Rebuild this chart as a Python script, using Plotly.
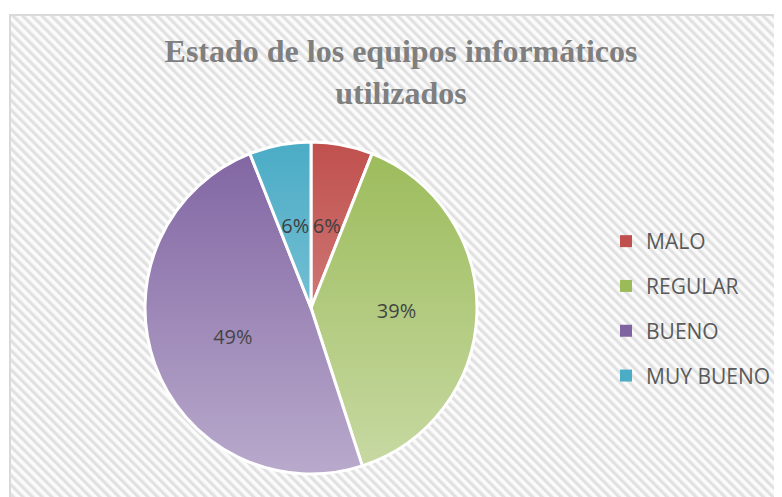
import base64
import plotly.graph_objects as go

# ---- data ----
categories = ["MALO", "REGULAR", "BUENO", "MUY BUENO"]
values = [6, 39, 49, 6]
colors = ["#c0504d", "#9bbb59", "#8064a2", "#4bacc6"]
label_colors = ["#262626", "#0a0a0a", "#000000", "#262626"]
title_text = "Estado de los equipos informáticos<br>utilizados"

W, H = 782, 497
OFF = 8  # page body margin of the written html


def px_x(v):
    return (v - OFF) / W


def px_y(v):
    return 1 - (v - OFF) / H


def svg_uri(svg):
    return "data:image/svg+xml;base64," + base64.b64encode(svg.encode()).decode()


# background hatch
bg_svg = (
    "<svg xmlns='http://www.w3.org/2000/svg' width='800' height='500'>"
    "<defs><pattern id='p' width='6.8' height='6.8' patternUnits='userSpaceOnUse' "
    "patternTransform='rotate(-45)'>"
    "<rect width='6.8' height='6.8' fill='#fbfbfb'/>"
    "<rect x='0' width='3.2' height='6.8' fill='#e1e1e1'/>"
    "</pattern></defs>"
    "<rect width='800' height='500' fill='url(#p)'/></svg>"
)

# gradient overlay for pie (lighter towards bottom)
grad_svg = (
    "<svg xmlns='http://www.w3.org/2000/svg' width='332' height='332'>"
    "<defs><linearGradient id='g' x1='0' y1='0' x2='0' y2='1'>"
    "<stop offset='0' stop-color='#ffffff' stop-opacity='0'/>"
    "<stop offset='1' stop-color='#ffffff' stop-opacity='0.45'/>"
    "</linearGradient></defs>"
    "<circle cx='166' cy='166' r='166' fill='url(#g)'/></svg>"
)

cx, cy, r = 311, 308, 166
r_small = 100  # radius of the transparent label-carrying pie for thin slices

big_tpl = ["" if v < 10 else "%{percent:.0%}" for v in values]
small_tpl = ["%{percent:.0%}" if v < 10 else "" for v in values]

fig = go.Figure()
fig.add_trace(go.Pie(
    labels=categories,
    values=values,
    sort=False,
    direction="clockwise",
    rotation=0,
    marker=dict(colors=colors, line=dict(color="white", width=3)),
    texttemplate=big_tpl,
    textposition="inside",
    insidetextorientation="horizontal",
    textfont=dict(family="Open Sans", size=20, color=label_colors),
    domain=dict(x=[px_x(cx - r), px_x(cx + r)], y=[px_y(cy + r), px_y(cy - r)]),
    showlegend=False,
    hoverinfo="label+percent",
))
fig.add_trace(go.Pie(
    labels=categories,
    values=values,
    sort=False,
    direction="clockwise",
    rotation=0,
    marker=dict(colors=["rgba(0,0,0,0)"] * len(values), line=dict(width=0)),
    texttemplate=small_tpl,
    textposition="inside",
    insidetextorientation="horizontal",
    textfont=dict(family="Open Sans", size=20, color=label_colors),
    domain=dict(x=[px_x(cx - r_small), px_x(cx + r_small)],
                y=[px_y(cy + r_small), px_y(cy - r_small)]),
    showlegend=False,
    hoverinfo="skip",
))

for name, col in zip(categories, colors):
    fig.add_trace(go.Scatter(
        x=[None], y=[None], mode="markers", name=name, legendgroup=name,
        marker=dict(symbol="square", size=10, color=col),
        showlegend=True, hoverinfo="skip",
    ))

fig.update_layout(
    width=W, height=H,
    margin=dict(l=0, r=0, t=0, b=0),
    paper_bgcolor="white",
    plot_bgcolor="rgba(0,0,0,0)",
    xaxis=dict(visible=False),
    yaxis=dict(visible=False),
    uniformtext=dict(mode="show", minsize=20),
    title=dict(
        text=title_text,
        font=dict(family="Liberation Serif", size=32, color="#7f7f7f", weight="bold"),
        x=px_x(401), xanchor="center",
        y=px_y(62), yanchor="top",
    ),
    legend=dict(
        x=px_x(606), y=px_y(221), xanchor="left", yanchor="top",
        font=dict(family="Open Sans", size=21, color="#595959"),
        tracegroupgap=14.5,
        itemsizing="constant",
        bgcolor="rgba(0,0,0,0)",
    ),
    images=[
        dict(source=svg_uri(bg_svg), xref="paper", yref="paper",
             x=px_x(10), y=px_y(15), sizex=800 / W, sizey=500 / H,
             xanchor="left", yanchor="top", sizing="stretch", layer="below"),
        dict(source=svg_uri(grad_svg), xref="paper", yref="paper",
             x=px_x(cx - r), y=px_y(cy - r), sizex=2 * r / W, sizey=2 * r / H,
             xanchor="left", yanchor="top", sizing="stretch", layer="above"),
    ],
    shapes=[
        dict(type="rect", xref="paper", yref="paper",
             x0=px_x(10), y0=px_y(15), x1=px_x(820), y1=px_y(540),
             line=dict(color="#d9d9d9", width=2), fillcolor="rgba(0,0,0,0)",
             layer="below"),
    ],
)

fig.write_html("out.html")
